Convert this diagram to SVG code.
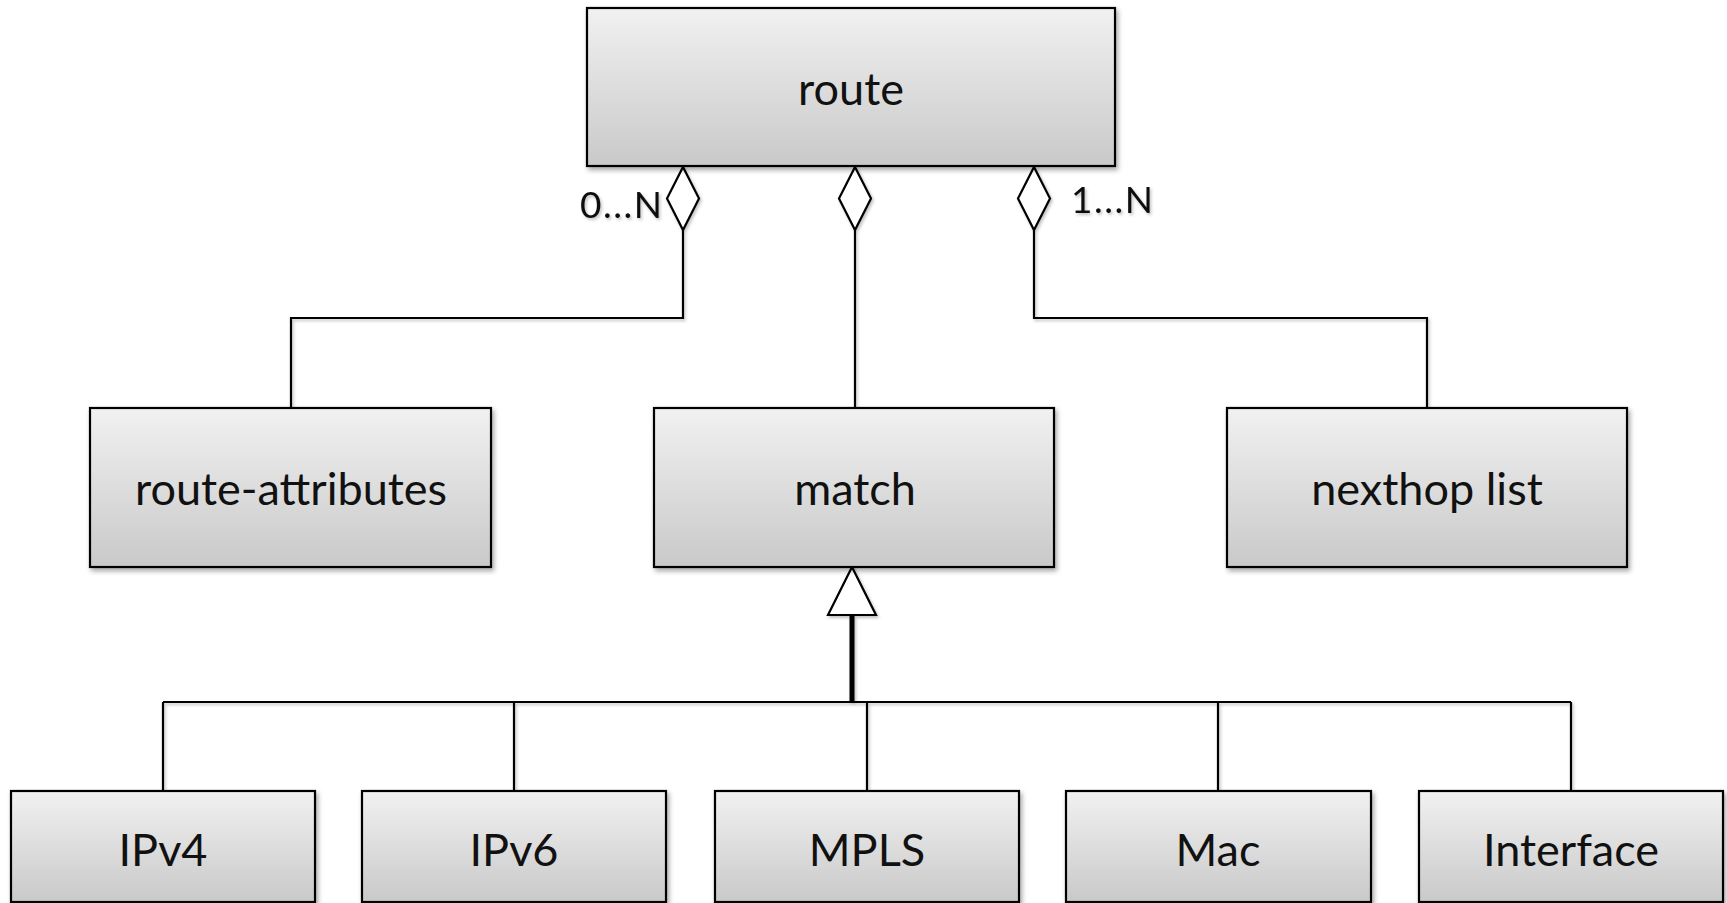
<svg xmlns="http://www.w3.org/2000/svg" width="1727" height="903" viewBox="0 0 1727 903">
  <defs>
    <linearGradient id="g" x1="0" y1="0" x2="0" y2="1">
      <stop offset="0" stop-color="#f1f1f1"/>
      <stop offset="1" stop-color="#c9c9c9"/>
    </linearGradient>
    <filter id="sh" x="-10%" y="-10%" width="125%" height="130%">
      <feDropShadow dx="2" dy="3" stdDeviation="2.5" flood-color="#000" flood-opacity="0.35"/>
    </filter>
    <filter id="lsh" x="-20%" y="-20%" width="140%" height="140%">
      <feDropShadow dx="1.5" dy="2" stdDeviation="1.5" flood-color="#000" flood-opacity="0.25"/>
    </filter>
  </defs>
  <style>
    .box { fill: url(#g); stroke: #000; stroke-width: 2.2; filter: url(#sh); }
    .lbl { font-family: Lato, "Liberation Sans", sans-serif; font-size: 45px; fill: #111; text-anchor: middle; }
    .mult { font-family: Lato, "Liberation Sans", sans-serif; font-size: 37px; fill: #111; letter-spacing: 1.5px; }
    .ln { fill: none; stroke: #000; stroke-width: 2.2; }
    .thick { fill: none; stroke: #000; stroke-width: 5; }
    .dia { fill: #fff; stroke: #000; stroke-width: 2.2; }
  </style>
  <rect width="1727" height="903" fill="#fff"/>

  <g id="connectors" filter="url(#lsh)">
    <polyline class="ln" points="683,230 683,318 291,318 291,408"/>
    <polyline class="ln" points="855,230 855,408"/>
    <polyline class="ln" points="1034,230 1034,318 1427,318 1427,408"/>
    <polygon class="dia" points="683,167 699,198.5 683,230 667,198.5"/>
    <polygon class="dia" points="855,167 871,198.5 855,230 839,198.5"/>
    <polygon class="dia" points="1034,167 1050,198.5 1034,230 1018,198.5"/>
    <line class="thick" x1="852" y1="615" x2="852" y2="702"/>
    <polygon class="dia" points="852,567 876,615 828,615"/>
    <line class="ln" x1="163" y1="702" x2="1571" y2="702"/>
    <line class="ln" x1="163" y1="702" x2="163" y2="791"/>
    <line class="ln" x1="514" y1="702" x2="514" y2="791"/>
    <line class="ln" x1="867" y1="702" x2="867" y2="791"/>
    <line class="ln" x1="1218" y1="702" x2="1218" y2="791"/>
    <line class="ln" x1="1571" y1="702" x2="1571" y2="791"/>
    <text class="mult" x="580" y="218">0...N</text>
    <text class="mult" x="1071" y="213">1...N</text>
  </g>

  <g id="route">
    <rect class="box" x="587" y="8" width="528" height="158"/>
    <text class="lbl" x="851" y="105">route</text>
  </g>
  <g id="route-attributes">
    <rect class="box" x="90" y="408" width="401" height="159"/>
    <text class="lbl" x="291" y="505">route-attributes</text>
  </g>
  <g id="match">
    <rect class="box" x="654" y="408" width="400" height="159"/>
    <text class="lbl" x="855" y="505">match</text>
  </g>
  <g id="nexthop-list">
    <rect class="box" x="1227" y="408" width="400" height="159"/>
    <text class="lbl" x="1427" y="505">nexthop list</text>
  </g>
  <g id="ipv4">
    <rect class="box" x="11" y="791" width="304" height="111"/>
    <text class="lbl" x="163" y="866">IPv4</text>
  </g>
  <g id="ipv6">
    <rect class="box" x="362" y="791" width="304" height="111"/>
    <text class="lbl" x="514" y="866">IPv6</text>
  </g>
  <g id="mpls">
    <rect class="box" x="715" y="791" width="304" height="111"/>
    <text class="lbl" x="867" y="866">MPLS</text>
  </g>
  <g id="mac">
    <rect class="box" x="1066" y="791" width="305" height="111"/>
    <text class="lbl" x="1218" y="866">Mac</text>
  </g>
  <g id="interface">
    <rect class="box" x="1419" y="791" width="304" height="111"/>
    <text class="lbl" x="1571" y="866">Interface</text>
  </g>
</svg>
